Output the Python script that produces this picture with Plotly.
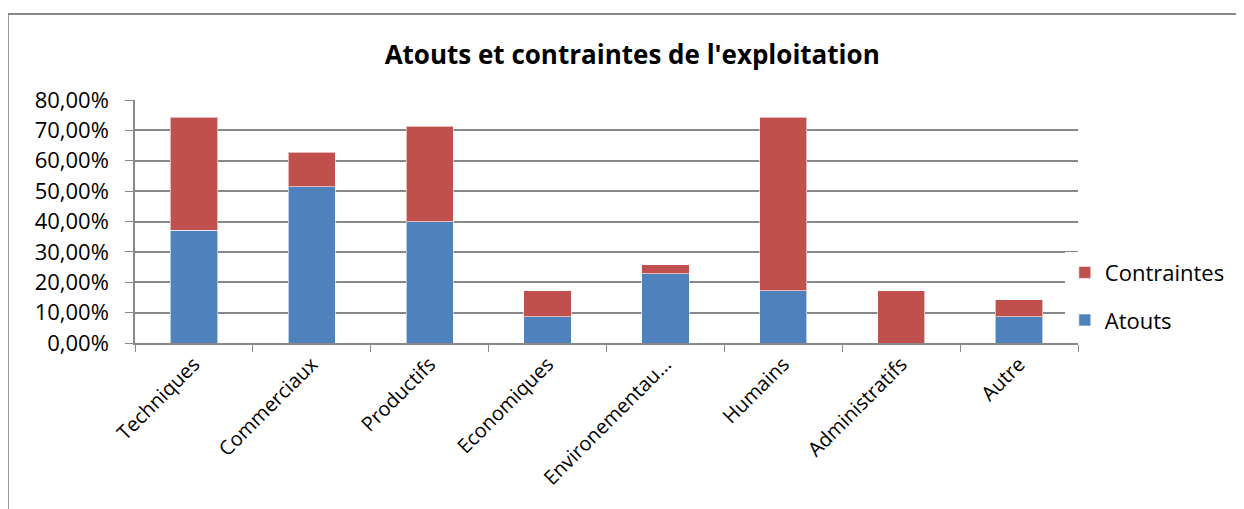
import plotly.graph_objects as go

categories = ["Techniques", "Commerciaux", "Productifs", "Economiques",
              "Environementau…", "Humains", "Administratifs", "Autre"]
atouts = [0.3714, 0.5143, 0.4000, 0.0857, 0.2286, 0.1714, 0.0, 0.0857]
contraintes = [0.3714, 0.1143, 0.3143, 0.0857, 0.0286, 0.5714, 0.1714, 0.0571]

font = "Open Sans"
grid = "#888888"

fig = go.Figure()
fig.add_trace(go.Bar(x=categories, y=atouts, name="Atouts", legendgroup="a", legendrank=2,
                     marker=dict(color="#4F81BD", line=dict(width=1, color="rgba(255,255,255,0.6)"))))
fig.add_trace(go.Bar(x=categories, y=contraintes, name="Contraintes", legendgroup="c", legendrank=1,
                     marker=dict(color="#C0504D", line=dict(width=1, color="rgba(255,255,255,0.6)"))))

# page body has an 8px margin, so the figure is a bit smaller than the window
fig.update_layout(
    width=1236, height=501,
    barmode="stack", bargap=0.6,
    separators=", ",
    paper_bgcolor="white", plot_bgcolor="white",
    margin=dict(l=127, r=166, t=92, b=166),
    font=dict(family=font, size=22, color="black"),
    title=dict(text="<b>Atouts et contraintes de l'exploitation</b>",
               x=0.505, xanchor="center", y=0.906, yanchor="middle",
               font=dict(family=font, size=26, color="black")),
    legend=dict(x=0.986, xanchor="left", y=0.191, yanchor="middle",
                traceorder="grouped", tracegroupgap=16,
                font=dict(family=font, size=22)),
    shapes=[dict(type="rect", xref="paper", yref="paper",
                 x0=-0.1348, x1=1.2, y0=-0.75, y1=1.354,
                 line=dict(color="#8a8a8a", width=2))],
)
fig.update_yaxes(range=[0, 0.8], dtick=0.1, tickformat=".2%",
                 showgrid=True, gridcolor=grid, gridwidth=1.5,
                 showline=True, linecolor=grid, linewidth=1.5,
                 ticks="outside", ticklen=8, tickcolor=grid,
                 ticklabelstandoff=12, zeroline=False,
                 tickfont=dict(size=22))
fig.update_xaxes(showline=True, linecolor=grid, linewidth=1.5,
                 ticks="outside", ticklen=7, tickcolor=grid,
                 tickson="boundaries", tickangle=-45, showgrid=False,
                 tickfont=dict(size=20))

fig.write_html("out.html")
